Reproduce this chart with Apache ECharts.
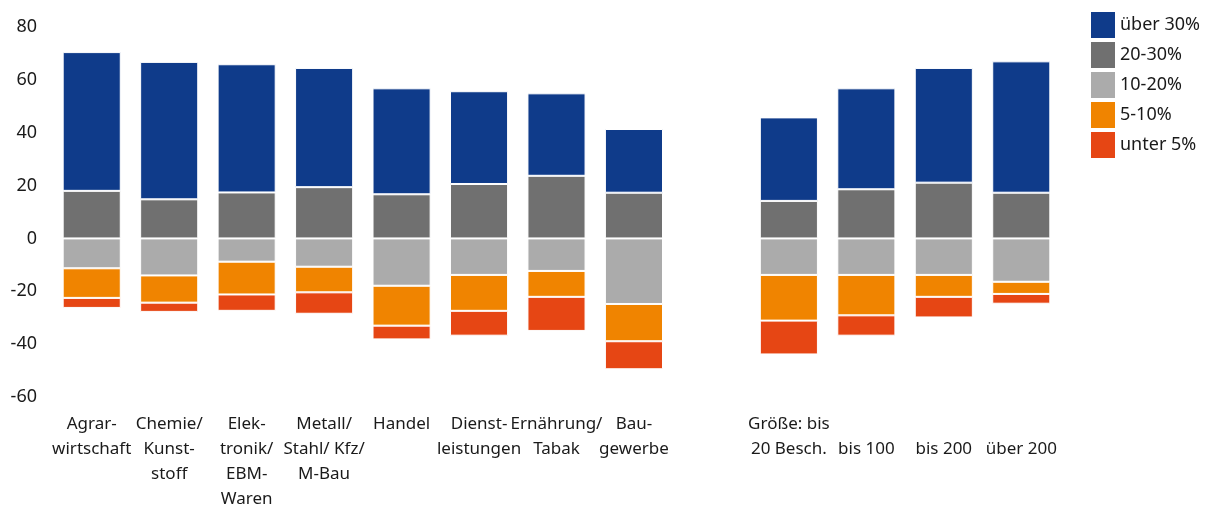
<!DOCTYPE html>
<html>
<head>
<meta charset="utf-8">
<script src="https://cdn.jsdelivr.net/npm/echarts@6/dist/echarts.min.js"></script>
<style>
  html, body { margin: 0; padding: 0; background: #fff; }
  #chart { width: 1208px; height: 506px; }
</style>
</head>
<body>
<div id="chart"></div>
<script>
// Kategorien (leere Kategorie = Lücke zwischen Branchen und Größenklassen)
const categories = [
  'Agrar-\nwirtschaft', 'Chemie/\nKunst-\nstoff', 'Elek-\ntronik/\nEBM-\nWaren',
  'Metall/\nStahl/ Kfz/\nM-Bau', 'Handel', 'Dienst-\nleistungen', 'Ernährung/\nTabak',
  'Bau-\ngewerbe', '', 'Größe: bis\n20 Besch.', '\nbis 100', '\nbis 200', '\nüber 200'
];

// positive Anteile
const ueber30 = [52.5, 52.0, 48.5, 45.1, 40.1, 35.1, 31.2, 24.1, null, 31.6, 38.2, 43.4, 49.7];
const von20bis30 = [18.0, 14.8, 17.4, 19.4, 16.7, 20.6, 23.7, 17.3, null, 14.2, 18.6, 21.1, 17.3];
// negative Anteile
const von10bis20 = [-11.3, -14.0, -8.8, -10.7, -17.9, -13.8, -12.3, -24.8, null, -13.8, -13.8, -13.8, -16.4];
const von5bis10 = [-11.2, -10.3, -12.4, -9.7, -15.1, -13.6, -9.8, -14.1, null, -17.3, -15.3, -8.3, -4.6];
const unter5 = [-3.8, -3.5, -6.2, -8.1, -5.2, -9.4, -12.9, -10.6, null, -12.8, -7.7, -7.8, -3.7];

const yTicks = { min: -60, max: 80, step: 20 };

const chart = echarts.init(document.getElementById('chart'));

const font = '"Noto Sans", sans-serif';

function bar(name, data, color) {
  return {
    name: name,
    type: 'bar',
    stack: 'summe',
    data: data,
    barWidth: '75%',
    itemStyle: { color: color, borderColor: '#ffffff', borderWidth: 1 },
    emphasis: { disabled: true }
  };
}

chart.setOption({
  animation: false,
  textStyle: { fontFamily: font },
  grid: { left: 53, right: 148, top: 27, bottom: 109, outerBoundsMode: 'none' },
  legend: {
    orient: 'vertical',
    left: 1091,
    top: 12,
    padding: 0,
    itemWidth: 24,
    itemHeight: 26,
    itemGap: 4,
    icon: 'rect',
    itemStyle: { borderWidth: 0 },
    textStyle: { fontSize: 18, color: '#1a1a1a', fontFamily: font },
    data: ['über 30%', '20-30%', '10-20%', '5-10%', 'unter 5%']
  },
  xAxis: {
    type: 'category',
    data: categories,
    axisLine: { show: false },
    axisTick: { show: false },
    axisLabel: {
      interval: 0,
      margin: 15,
      fontSize: 17,
      lineHeight: 25,
      color: '#1a1a1a',
      fontFamily: font
    }
  },
  yAxis: {
    type: 'value',
    min: yTicks.min,
    max: yTicks.max,
    interval: yTicks.step,
    splitLine: { show: false },
    axisLine: { show: false },
    axisTick: { show: false },
    axisLabel: { fontSize: 18, color: '#1a1a1a', margin: 16, fontFamily: font }
  },
  series: [
    bar('20-30%', von20bis30, '#707070'),
    bar('über 30%', ueber30, '#0f3b8a'),
    bar('10-20%', von10bis20, '#ababab'),
    bar('5-10%', von5bis10, '#f08400'),
    bar('unter 5%', unter5, '#e64614')
  ]
});
</script>
</body>
</html>
